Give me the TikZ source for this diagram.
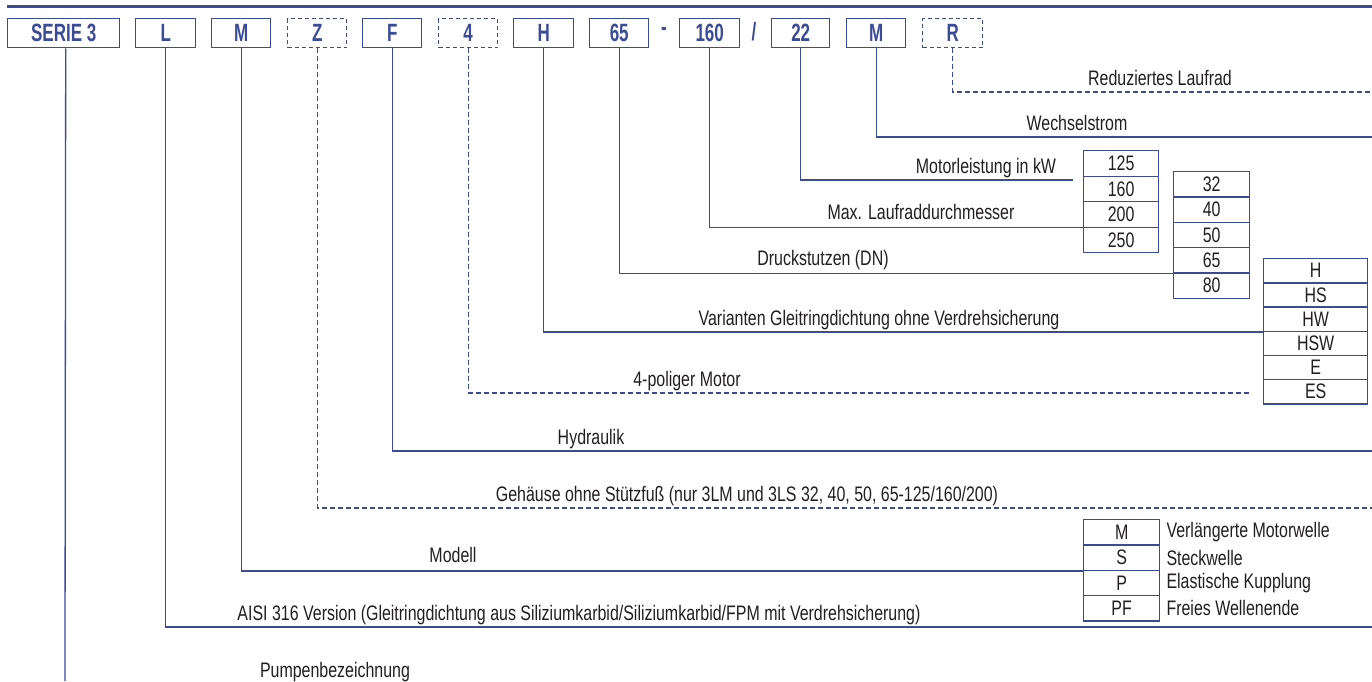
\documentclass[tikz,border=0pt]{standalone}
\usepackage{fontspec}
\setmainfont{Liberation Sans}[FakeStretch=0.76]
\newfontfamily\boxfont{Liberation Sans}[FakeStretch=0.68]
\definecolor{lblue}{RGB}{59,75,152}
\definecolor{txt}{RGB}{35,31,32}
\begin{document}
\begin{tikzpicture}[x=1pt,y=-1pt,
  code/.style={draw=lblue, line width=1.4pt, minimum height=29pt, inner sep=0pt,
    text=lblue, font=\boxfont\bfseries\fontsize{25}{25}\selectfont, anchor=north west},
  optcode/.style={code, dash pattern=on 4pt off 3pt},
  sep/.style={text=lblue, font=\boxfont\bfseries\fontsize{25}{25}\selectfont, inner sep=0pt},
  conn/.style={draw=lblue, line width=1.3pt},
  dconn/.style={conn, dash pattern=on 5pt off 3pt},
  lbl/.style={text=txt, font=\fontsize{21}{21}\selectfont, inner sep=0pt, anchor=base},
  cell/.style={draw=lblue, line width=1.3pt, minimum width=76pt, inner sep=0pt,
    text=txt, font=\fontsize{21}{21}\selectfont, anchor=north west},
]
\useasboundingbox (0,0) rectangle (1372,681);
\fill[white] (0,0) rectangle (1372,681);
% top rule
\draw[lblue, line width=3pt] (7,6) -- (1372,6);

% code boxes
\node[code, minimum width=112pt] (S3) at (7,18) {SERIE 3};
\node[code, minimum width=60pt] (bL) at (135,18) {L};
\node[code, minimum width=59pt] (bM) at (211,18) {M};
\node[optcode, minimum width=59pt] (bZ) at (287,18) {Z};
\node[code, minimum width=59pt] (bF) at (362,18) {F};
\node[optcode, minimum width=59pt] (b4) at (438,18) {4};
\node[code, minimum width=60pt] (bH) at (513,18) {H};
\node[code, minimum width=59pt] (b65) at (589,18) {65};
\node[sep] (dash) at (664,32) {-};
\node[code, minimum width=60pt] (b160) at (679,18) {160};
\node[sep] (slash) at (754,32) {/};
\node[code, minimum width=58pt] (b22) at (771,18) {22};
\node[code, minimum width=59pt] (bMM) at (846,18) {M};
\node[optcode, minimum width=60pt] (bR) at (922,18) {R};

% table 1
\foreach \t [count=\i] in {125,160,200,250}
  \node[cell, minimum height=25.5pt, minimum width=75pt] (ta\i) at (1083,{150+25.5*(\i-1)}) {\t};
% table 2
\foreach \t [count=\i] in {32,40,50,65,80}
  \node[cell, minimum height=25.3pt] (tb\i) at (1173,{171+25.3*(\i-1)}) {\t};
% table 3
\foreach \t [count=\i] in {H,HS,HW,HSW,E,ES}
  \node[cell, minimum height=24.2pt, minimum width=104pt] (tc\i) at (1263,{258+24.2*(\i-1)}) {\t};
% table 4
\foreach \t/\d [count=\i] in {M/Verlängerte Motorwelle,S/Steckwelle,P/Elastische Kupplung,PF/Freies Wellenende}{
  \node[cell, minimum height=25.3pt] (td\i) at (1083,{519+25.3*(\i-1)}) {\t};
  \node[lbl, anchor=west, text=txt] (dd\i) at ([xshift=6pt]td\i.east) {\d};
}

% free ends
\coordinate (eR) at (1372,92);
\coordinate (eMM) at (1372,137);
\coordinate (e22) at (1073,180);
\coordinate (e4) at (1250,393);
\coordinate (eF) at (1372,451);
\coordinate (eZ) at (1372,508);
\coordinate (eL) at (1372,627);
\coordinate (eS) at (65,681);

% connectors
\draw[dconn] (bR.south) |- (eR);
\draw[conn] (bMM.south) |- (eMM);
\draw[conn] (b22.south) |- (e22);
\draw[conn] (b160.south) |- (ta3.south west);
\draw[conn] (b65.south) |- (tb4.south west);
\draw[conn] (bH.south) |- (tc3.south west);
\draw[dconn] (b4.south) |- (e4);
\draw[conn] (bF.south) |- (eF);
\draw[dconn] (bZ.south) |- (eZ);
\draw[conn] (bM.south) |- (td2.south west);
\draw[conn] (bL.south) |- (eL);
\draw[conn] ([xshift=2pt]S3.south) -- (eS);

% labels
\node[lbl] (lR) at (1160,85) {Reduziertes Laufrad};
\node[lbl] (lMM) at (1077,130) {Wechselstrom};
\node[lbl] (l22) at (986,173) {Motorleistung in kW};
\node[lbl] (l160) at (921,219) {Max. Laufraddurchmesser};
\node[lbl] (l65) at (823,265) {Druckstutzen (DN)};
\node[lbl] (lH) at (879,325) {Varianten Gleitringdichtung ohne Verdrehsicherung};
\node[lbl] (l4) at (687,386) {4-poliger Motor};
\node[lbl] (lF) at (591,444) {Hydraulik};
\node[lbl] (lZ) at (747,501) {Gehäuse ohne Stützfuß (nur 3LM und 3LS 32, 40, 50, 65-125/160/200)};
\node[lbl] (lM) at (453,562) {Modell};
\node[lbl] (lL) at (579,620) {AISI 316 Version (Gleitringdichtung aus Siliziumkarbid/Siliziumkarbid/FPM mit Verdrehsicherung)};
\node[lbl] (lS) at (335,677) {Pumpenbezeichnung};
\end{tikzpicture}
\end{document}
